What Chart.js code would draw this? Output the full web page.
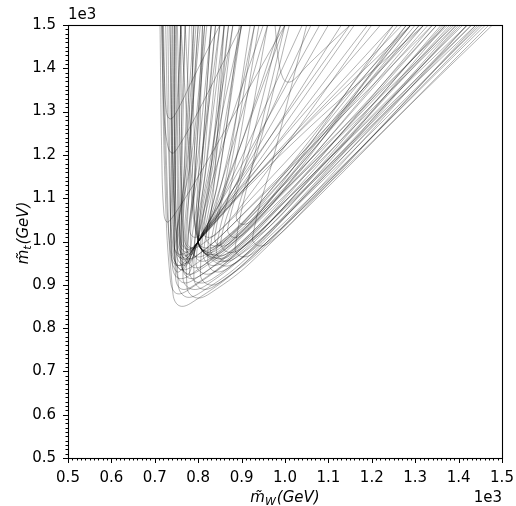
<!DOCTYPE html>
<html lang="en">
<head>
<script src="https://cdn.jsdelivr.net/npm/chart.js@4.4.1/dist/chart.umd.min.js"></script>
<style>
  body { margin: 0; background: #fff; }
</style>
</head>
<body>
<canvas id="chart" width="516" height="506"></canvas>
<script>
// axis ticks (GeV), shown as x/1e3
var xTicks = [500, 600, 700, 800, 900, 1000, 1100, 1200, 1300, 1400, 1500];
var yTicks = [500, 600, 700, 800, 900, 1000, 1100, 1200, 1300, 1400, 1500];

// each curve: x,y pairs (GeV)
// low loops, right branch passing under the crossing point
var lowCurves = [
  [720,1500, 728,1150, 742,878, 758,851, 790,862, 900,944, 1478,1500],
  [760,1500, 755,1150, 754,900, 772,872, 805,882, 910,960, 1462,1500],
  [716,1500, 723,1150, 736,910, 750,880, 780,890, 880,965, 1440,1500],
  [800,1500, 778,1150, 765,915, 785,890, 820,900, 920,980, 1450,1500],
  [735,1500, 740,1150, 750,930, 765,905, 795,915, 890,990, 1420,1500],
  [840,1500, 805,1150, 780,930, 800,905, 835,915, 935,995, 1430,1500],
  [780,1500, 767,1150, 760,950, 775,925, 805,935, 900,1010, 1395,1500],
  [870,1500, 826,1150, 795,950, 815,925, 850,937, 945,1015, 1405,1500],
  [815,1500, 792,1150, 775,965, 790,940, 820,950, 910,1025, 1370,1500],
  [745,1500, 740,1150, 738,970, 750,945, 780,955, 870,1030, 1340,1500],
  [900,1500, 847,1150, 812,970, 830,945, 865,957, 960,1040, 1385,1500],
  [850,1500, 815,1150, 790,978, 805,955, 835,965, 925,1040, 1350,1500],
  [770,1500, 762,1150, 758,985, 770,960, 800,970, 885,1045, 1320,1500],
  [920,1500, 865,1150, 828,985, 845,960, 880,972, 975,1055, 1360,1500],
  [880,1500, 835,1150, 805,992, 820,970, 850,980, 940,1060, 1330,1500],
  [745,1500, 746,1150, 748,915, 762,890, 792,900, 890,975, 1430,1500],
  [790,1500, 780,1150, 774,895, 795,870, 830,882, 930,960, 1470,1500],
  [830,1500, 806,1150, 790,915, 810,890, 845,902, 945,985, 1455,1500],
  [760,1500, 762,1150, 764,940, 780,915, 812,926, 905,1000, 1410,1500],
  [750,1500, 748,1150, 747,960, 760,935, 790,945, 880,1018, 1375,1500],
  [860,1500, 838,1150, 822,955, 840,930, 875,943, 970,1025, 1420,1500],
  [940,1500, 880,1150, 842,980, 860,955, 895,968, 990,1050, 1395,1500],
  [810,1500, 793,1150, 782,988, 795,965, 825,975, 910,1050, 1310,1500],
  [752,1500, 760,1150, 768,1005, 780,985, 808,993, 890,1065, 1290,1500],
  [895,1500, 848,1150, 818,1010, 835,990, 865,1000, 950,1080, 1310,1500],
  [730,1500, 735,1150, 741,940, 755,915, 785,925, 875,1000, 1390,1500],
  [860,1500, 828,1150, 805,925, 825,900, 860,912, 960,995, 1445,1500],
  [960,1500, 895,1150, 852,1000, 870,975, 905,988, 1000,1070, 1370,1500],
  [1000,1500, 930,1200, 885,985, 900,965, 930,975, 1020,1060, 1420,1500],
  [1050,1500, 975,1200, 925,1008, 940,990, 968,1000, 1050,1080, 1440,1500]
];

// left branch through (800, 1000)
var leftThrough = [
  [830,1500, 810,1200, 800,1000, 820,975, 850,985, 940,1065, 1300,1500],
  [860,1500, 822,1200, 800,1000, 812,980, 840,990, 930,1075, 1280,1500],
  [770,1500, 785,1200, 800,1000, 830,965, 870,975, 960,1060, 1350,1500],
  [900,1500, 835,1200, 800,1000, 818,985, 848,995, 935,1080, 1260,1500],
  [760,1500, 780,1200, 800,1000, 845,955, 890,970, 980,1060, 1380,1500],
  [810,1500, 803,1200, 800,1000, 835,962, 875,972, 965,1055, 1365,1500],
  [880,1500, 830,1200, 800,1000, 825,970, 860,980, 950,1065, 1320,1500],
  [950,1500, 850,1200, 800,1000, 815,978, 845,988, 935,1072, 1290,1500],
  [785,1500, 792,1200, 800,1000, 855,945, 900,960, 990,1045, 1400,1500],
  [840,1500, 815,1200, 800,1000, 840,968, 880,980, 970,1065, 1340,1500]
];

// right branch through (800, 1000)
var rightThrough = [
  [760,1500, 748,1200, 752,985, 768,958, 800,1000, 880,1120, 1100,1500],
  [790,1500, 770,1200, 762,975, 780,950, 800,1000, 860,1110, 1040,1500],
  [725,1500, 732,1200, 745,960, 765,935, 800,1000, 900,1130, 1160,1500],
  [820,1500, 790,1200, 770,990, 785,970, 800,1000, 850,1100, 1000,1500],
  [770,1500, 760,1200, 760,950, 778,925, 800,1000, 920,1150, 1220,1500],
  [748,1500, 745,1200, 744,990, 760,970, 800,1000, 940,1160, 1250,1500],
  [800,1500, 778,1200, 765,1000, 782,980, 800,1000, 830,1060, 960,1500],
  [740,1500, 738,1200, 740,975, 758,945, 800,1000, 960,1180, 1290,1500],
  [830,1500, 800,1200, 776,995, 790,985, 800,1000, 820,1050, 900,1500],
  [745,1500, 746,1200, 757,995, 775,975, 800,1000, 870,1100, 1060,1500],
  [805,1500, 776,1200, 750,970, 770,945, 800,1000, 1000,1210, 1320,1500],
  [740,1500, 742,1200, 754,990, 772,968, 800,1000, 840,1080, 930,1500],
  [815,1500, 785,1200, 746,985, 764,962, 800,1000, 900,1140, 1130,1500],
  [718,1500, 724,1200, 738,960, 756,930, 800,1000, 980,1200, 1270,1500],
  [795,1500, 773,1200, 766,980, 784,960, 800,1000, 880,1140, 1080,1500],
  [760,1500, 752,1200, 760,1000, 776,982, 800,1000, 850,1090, 990,1500],
  [735,1500, 741,1200, 753,975, 771,950, 800,1000, 930,1160, 1190,1500]
];

// loops sitting just above the crossing point
var midCurves = [
  [930,1500, 880,1200, 838,1010, 850,990, 875,998, 960,1090, 1250,1500],
  [990,1500, 915,1200, 868,1030, 880,1010, 905,1018, 990,1110, 1280,1500],
  [870,1500, 838,1200, 808,1030, 820,1010, 845,1020, 920,1110, 1200,1500],
  [1010,1500, 940,1220, 888,1060, 900,1040, 925,1050, 1010,1150, 1290,1500],
  [850,1500, 808,1200, 780,1030, 790,1010, 810,1020, 880,1120, 1150,1500]
];

// small loops higher up
var highCurves = [
  [718,1500, 722,1380, 727,1298, 735,1283, 746,1292, 790,1380, 850,1500],
  [716,1500, 721,1300, 730,1220, 740,1204, 752,1215, 800,1300, 900,1500],
  [712,1500, 716,1200, 721,1065, 728,1045, 740,1055, 800,1150, 1000,1500],
  [977,1500, 985,1420, 995,1378, 1007,1368, 1022,1375, 1055,1410, 1150,1500]
];

var allCurves = lowCurves.concat(leftThrough, rightThrough, midCurves, highCurves);

function toPoints(flat) {
  var pts = [];
  for (var i = 0; i < flat.length; i += 2) {
    pts.push({x: flat[i], y: flat[i + 1]});
  }
  return pts;
}

var datasets = allCurves.map(function (c) {
  return {
    data: toPoints(c),
    showLine: true,
    pointRadius: 0,
    borderColor: 'rgba(0,0,0,0.3)',
    borderWidth: 1,
    tension: 0.4,
    fill: false
  };
});

var FONT = 'DejaVu Sans';

// mathtext-like label: italic m with tilde, subscript, then (GeV)
function drawLabel(ctx, sub, cx, cy, rotate) {
  ctx.save();
  ctx.translate(cx, cy);
  if (rotate) ctx.rotate(-Math.PI / 2);
  var big = 'italic 15px "' + FONT + '"';
  var small = 'italic 11px "' + FONT + '"';
  ctx.font = big;
  var wM = ctx.measureText('m').width;
  var wRest = ctx.measureText('(GeV)').width;
  ctx.font = small;
  var wSub = ctx.measureText(sub).width;
  var total = wM + wSub + 1 + wRest;
  var x = -total / 2;
  ctx.fillStyle = '#000';
  ctx.textBaseline = 'alphabetic';
  ctx.textAlign = 'left';
  ctx.font = big;
  ctx.fillText('m\u0303', x, 5);
  x += wM;
  ctx.font = small;
  ctx.fillText(sub, x, 8);
  x += wSub + 1;
  ctx.font = big;
  ctx.fillText('(GeV)', x, 5);
  ctx.restore();
}

var framePlugin = {
  id: 'frame',
  afterDraw: function (chart) {
    var ctx = chart.ctx, a = chart.chartArea;
    var xs = chart.scales.x, ys = chart.scales.y;
    ctx.save();
    ctx.strokeStyle = '#000';
    ctx.lineWidth = 1;
    ctx.beginPath();
    var v, p;
    // minor ticks every 10 GeV
    for (v = 500; v <= 1500; v += 10) {
      p = Math.round(xs.getPixelForValue(v)) + 0.5;
      ctx.moveTo(p, a.bottom);
      ctx.lineTo(p, a.bottom + 2.5);
      p = Math.round(ys.getPixelForValue(v)) + 0.5;
      ctx.moveTo(a.left, p);
      ctx.lineTo(a.left - 2.5, p);
    }
    xTicks.forEach(function (t) {
      var q = Math.round(xs.getPixelForValue(t)) + 0.5;
      ctx.moveTo(q, a.bottom);
      ctx.lineTo(q, a.bottom + 5);
    });
    yTicks.forEach(function (t) {
      var q = Math.round(ys.getPixelForValue(t)) + 0.5;
      ctx.moveTo(a.left, q);
      ctx.lineTo(a.left - 5, q);
    });
    ctx.stroke();
    ctx.lineWidth = 1.1;
    ctx.strokeRect(a.left + 0.5, a.top + 0.5, a.right - a.left, a.bottom - a.top);

    // offset text
    ctx.fillStyle = '#000';
    ctx.font = '15px "' + FONT + '"';
    ctx.textAlign = 'left';
    ctx.textBaseline = 'alphabetic';
    ctx.fillText('1e3', a.left, a.top - 6);
    ctx.textAlign = 'right';
    ctx.fillText('1e3', a.right, 502);
    ctx.restore();

    drawLabel(ctx, 'W', (a.left + a.right) / 2, 497, false);
    drawLabel(ctx, 't', 23, 233, true);
  }
};

var ctx = document.getElementById('chart').getContext('2d');
var chart = new Chart(ctx, {
  type: 'scatter',
  data: { datasets: datasets },
  options: {
    responsive: false,
    animation: false,
    events: [],
    layout: { padding: { top: 25, right: 14, left: 0, bottom: 0 } },
    plugins: { legend: { display: false }, tooltip: { enabled: false } },
    scales: {
      x: {
        type: 'linear', min: 500, max: 1500,
        grid: { display: false, tickLength: 0 }, border: { display: false },
        afterBuildTicks: function (s) { s.ticks = xTicks.map(function (v) { return {value: v}; }); },
        afterFit: function (s) { s.height = 48; s.paddingLeft = 0; s.paddingRight = 0; },
        ticks: {
          padding: 11, color: '#000', maxRotation: 0, autoSkip: false,
          font: { family: FONT, size: 15 },
          callback: function (v) { return (v / 1000).toFixed(1); }
        }
      },
      y: {
        type: 'linear', min: 500, max: 1500,
        grid: { display: false, tickLength: 0 }, border: { display: false },
        afterBuildTicks: function (s) { s.ticks = yTicks.map(function (v) { return {value: v}; }); },
        afterFit: function (s) { s.width = 68; s.paddingTop = 0; s.paddingBottom = 0; },
        ticks: {
          padding: 12, color: '#000', autoSkip: false,
          font: { family: FONT, size: 15 },
          callback: function (v) { return (v / 1000).toFixed(1); }
        }
      }
    }
  },
  plugins: [framePlugin]
});
</script>
</body>
</html>
